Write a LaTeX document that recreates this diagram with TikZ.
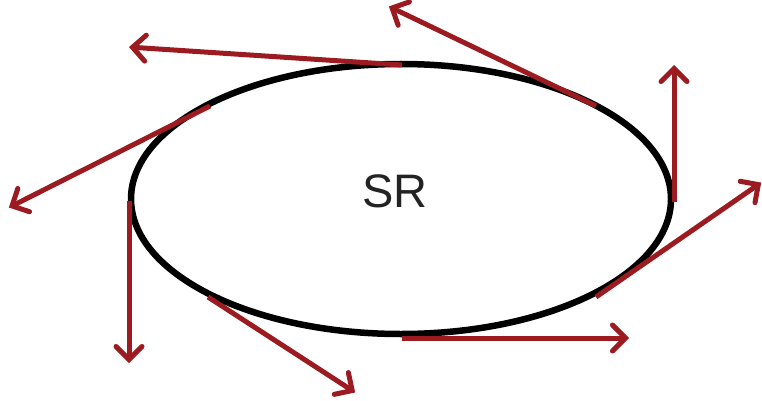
\documentclass[tikz,border=0pt]{standalone}
\usepackage{fontspec}
\setmainfont{Liberation Sans}
\usetikzlibrary{arrows.meta}
\definecolor{arrowred}{RGB}{155,27,32}
\definecolor{labelgray}{RGB}{35,35,35}
\tikzset{
  ring/.style={draw=black, line width=6.5pt},
  vec/.style={draw=arrowred, line width=5pt,
    -{Straight Barb[length=13pt,width=26pt,line cap=round]}, shorten >=1pt},
}
\begin{document}
\begin{tikzpicture}[x=1pt,y=-1pt]
\useasboundingbox (0,0) rectangle (762,401);
\draw[ring] (401,199) ellipse [x radius=270, y radius=135];
\node[font=\fontsize{47}{52}\selectfont, text=labelgray, anchor=base, inner sep=0pt] (sr) at (395,207) {SR};
% start points on the ring
\coordinate (s1) at (402,65);
\coordinate (s2) at (210,106);
\coordinate (s3) at (129,201);
\coordinate (s4) at (208,297);
\coordinate (s5) at (402,338);
\coordinate (s6) at (596,297);
\coordinate (s7) at (674,202);
\coordinate (s8) at (596,106);
% tips
\coordinate (t1) at (128,47);
\coordinate (t2) at (8,208);
\coordinate (t3) at (129,364);
\coordinate (t4) at (356,393);
\coordinate (t5) at (630,338);
\coordinate (t6) at (762,182);
\coordinate (t7) at (674,64);
\coordinate (t8) at (388,6);
\foreach \i in {1,...,8} \draw[vec] (s\i) -- (t\i);
\end{tikzpicture}
\end{document}
